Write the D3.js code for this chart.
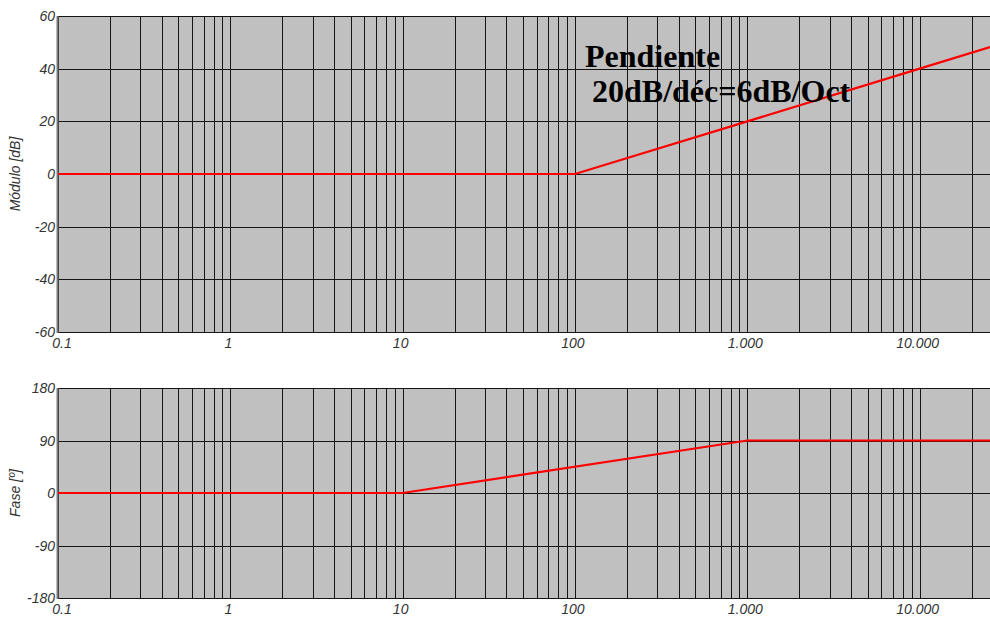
<!DOCTYPE html>
<html>
<head>
<meta charset="utf-8">
<script src="https://cdn.jsdelivr.net/npm/d3@7"></script>
<style>
  body { margin: 0; background: #fff; }
  svg { display: block; }
  .tick-label { font-family: "Liberation Sans", Arial, sans-serif; font-style: italic; font-size: 14px; fill: #333; }
  .axis-title { font-family: "Liberation Sans", Arial, sans-serif; font-style: italic; font-size: 14px; fill: #333; }
  .note { font-family: "Liberation Serif", "Times New Roman", serif; font-weight: bold; font-size: 32px; fill: #000; }
</style>
</head>
<body>
<svg width="990" height="617"></svg>
<script>
'use strict';

// Frequency range shown (rad/s, log scale)
const freqDomain = [0.1, 25600];
const freqTicks = [0.1, 1, 10, 100, 1000, 10000];
const freqTickLabels = ['0.1', '1', '10', '100', '1.000', '10.000'];

// Magnitude plot
const magDomain = [-60, 60];
const magTicks = [-60, -40, -20, 0, 20, 40, 60];
const magFreq = [0.1, 100, 1000, 10000, 25600];
const magDb = [0, 0, 20, 40, 48.2];

// Phase plot
const phaseDomain = [-180, 180];
const phaseTicks = [-180, -90, 0, 90, 180];
const phaseFreq = [0.1, 10, 1000, 25600];
const phaseDeg = [0, 0, 90, 90];

const noteLines = ['Pendiente', ' 20dB/déc=6dB/Oct'];

const svg = d3.select('svg');
const left = 58, right = 990;

const x = d3.scaleLog().domain(freqDomain).range([left, right]);

// Minor grid values: 1..9 times each decade
const gridFreqs = [];
for (let e = -1; e <= 4; e++) {
  for (let m = 1; m <= 9; m++) {
    const f = m * Math.pow(10, e);
    if (f >= freqDomain[0] && f <= freqDomain[1]) gridFreqs.push(f);
  }
}

function drawPanel(opts) {
  const y = d3.scaleLinear().domain(opts.domain).range([opts.bottom, opts.top]);
  const g = svg.append('g');

  g.append('rect')
    .attr('x', left).attr('y', opts.top)
    .attr('width', right - left).attr('height', opts.bottom - opts.top)
    .attr('fill', '#c0c0c0');

  // Vertical grid
  g.selectAll('line.vg')
    .data(gridFreqs)
    .enter().append('line')
    .attr('class', 'vg')
    .attr('x1', d => Math.round(x(d)) + 0.5).attr('x2', d => Math.round(x(d)) + 0.5)
    .attr('y1', opts.top).attr('y2', opts.bottom)
    .attr('stroke', '#151515').attr('stroke-width', 1);

  // Horizontal grid
  g.selectAll('line.hg')
    .data(opts.ticks)
    .enter().append('line')
    .attr('class', 'hg')
    .attr('x1', left).attr('x2', right)
    .attr('y1', d => Math.round(y(d)) + 0.5).attr('y2', d => Math.round(y(d)) + 0.5)
    .attr('stroke', '#151515').attr('stroke-width', 1);

  // Left border
  g.append('line')
    .attr('x1', left - 0.5).attr('x2', left - 0.5)
    .attr('y1', opts.top).attr('y2', opts.bottom + 1)
    .attr('stroke', '#7a7a7a').attr('stroke-width', 2);

  // Y tick labels
  g.selectAll('text.yl')
    .data(opts.ticks)
    .enter().append('text')
    .attr('class', 'tick-label')
    .attr('x', left - 3)
    .attr('y', d => y(d) + 5)
    .attr('text-anchor', 'end')
    .text(d => d);

  // X tick labels
  g.selectAll('text.xl')
    .data(freqTicks)
    .enter().append('text')
    .attr('class', 'tick-label')
    .attr('x', (d, i) => i === 0 ? x(d) + 4 : x(d) - 2)
    .attr('y', opts.bottom + 16)
    .attr('text-anchor', 'middle')
    .text((d, i) => freqTickLabels[i]);

  // Axis title
  g.append('text')
    .attr('class', 'axis-title')
    .attr('transform', `translate(20,${(opts.top + opts.bottom) / 2}) rotate(-90)`)
    .attr('text-anchor', 'middle')
    .text(opts.title);

  // Response curve
  const pts = opts.xs.map((f, i) => [f, opts.ys[i]]);
  g.append('path')
    .datum(pts)
    .attr('fill', 'none')
    .attr('stroke', '#ff0000')
    .attr('stroke-width', 2.2)
    .attr('d', d3.line().x(d => x(d[0])).y(d => y(d[1])));

  return y;
}

drawPanel({
  top: 16, bottom: 332, domain: magDomain, ticks: magTicks,
  title: 'Módulo [dB]', xs: magFreq, ys: magDb
});

drawPanel({
  top: 388, bottom: 598, domain: phaseDomain, ticks: phaseTicks,
  title: 'Fase [º]', xs: phaseFreq, ys: phaseDeg
});

// Annotation
svg.append('text')
  .attr('class', 'note')
  .attr('x', 585).attr('y', 67)
  .text(noteLines[0]);
svg.append('text')
  .attr('class', 'note')
  .attr('x', 584).attr('y', 102)
  .attr('xml:space', 'preserve')
  .style('white-space', 'pre')
  .text(noteLines[1]);
</script>
</body>
</html>
